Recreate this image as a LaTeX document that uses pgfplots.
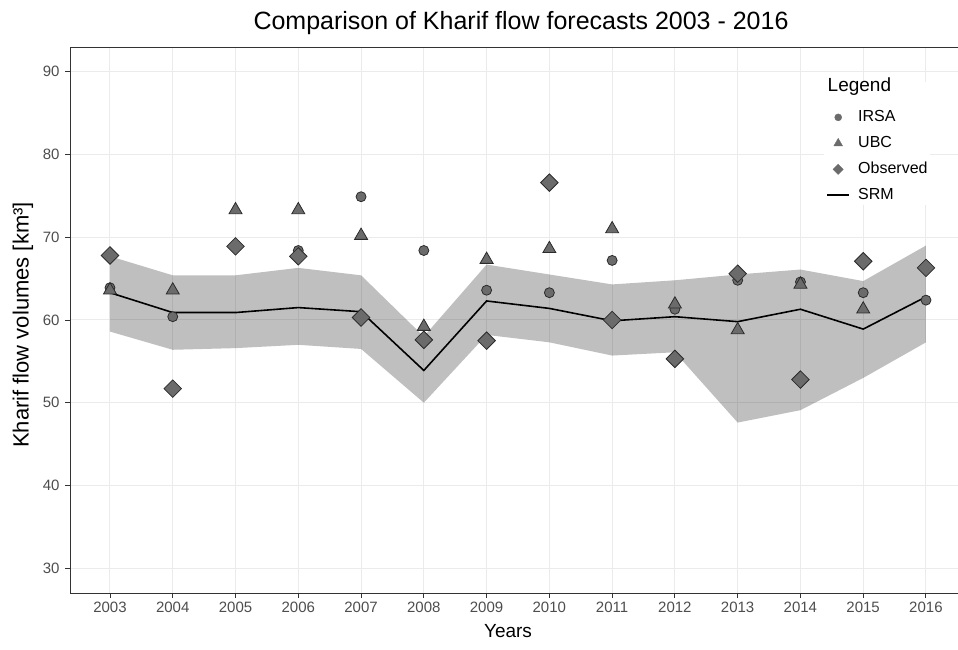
\documentclass[border=0pt]{standalone}
\usepackage{fontspec}
\setmainfont{Liberation Sans}
\usepackage{pgfplots}
\pgfplotsset{compat=1.18}
\definecolor{gridc}{HTML}{EBEBEB}
\definecolor{bordc}{HTML}{333333}
\definecolor{tickc}{HTML}{4D4D4D}
\definecolor{markfill}{HTML}{6B6B6B}
\definecolor{markedge}{HTML}{2B2B2B}
\pgfplotsset{
  legmark/.style={legend image code/.code={\draw[##1] plot coordinates {(11pt,0pt)};}},
  legline/.style={legend image code/.code={\draw[##1] (0pt,0pt) -- (22pt,0pt);}},
}
\begin{document}
\begin{tikzpicture}
\path[use as bounding box] (0,0) rectangle (958pt,650pt);
\begin{axis}[
  at={(70pt,57pt)}, anchor=south west,
  scale only axis, width=888pt, height=546pt,
  xmin=2002.363, xmax=2016.51, ymin=27, ymax=93,
  xtick={2003,2004,...,2016}, ytick={30,40,...,90},
  xticklabel style={/pgf/number format/.cd,1000 sep={}},
  yticklabel style={xshift=-2pt},
  /pgf/number format/assume math mode=true,
  ticklabel style={font=\fontsize{15}{15}\selectfont, color=tickc},
  grid=major, major grid style={color=gridc, line width=1pt},
  axis line style={color=bordc, line width=0.9pt},
  tick style={color=bordc, line width=0.9pt},
  tick align=outside, major tick length=5pt, tick pos=left,
  legend cell align=left,
  legend style={at={(0.8491,0.9365)}, anchor=north west, draw=none, fill=white,
    inner sep=2pt, row sep=11pt, column sep=8pt,
    font=\fontsize{16}{16}\selectfont,
    nodes={inner sep=0pt, text height=12pt, text depth=3pt}},
]
% uncertainty band (upper edge, then lower edge reversed)
\addplot[fill=black, fill opacity=0.25, draw=none, forget plot] coordinates {
(2003,67.7) (2004,65.4) (2005,65.4) (2006,66.3) (2007,65.4) (2008,58.0) (2009,66.7)
(2010,65.5) (2011,64.3) (2012,64.8) (2013,65.5) (2014,66.1) (2015,64.7) (2016,69.0)
(2016,57.3) (2015,53.0) (2014,49.1) (2013,47.6) (2012,56.1) (2011,55.7) (2010,57.3)
(2009,58.2) (2008,50.0) (2007,56.5) (2006,57.0) (2005,56.6) (2004,56.4) (2003,58.6)} -- cycle;
% SRM
\addplot[black, line width=1.6pt, forget plot] coordinates {
(2003,63.3) (2004,60.9) (2005,60.9) (2006,61.5) (2007,61.0) (2008,53.9) (2009,62.3)
(2010,61.4) (2011,59.9) (2012,60.4) (2013,59.8) (2014,61.3) (2015,58.9) (2016,62.8)};
% IRSA
\addplot[only marks, mark=*, mark size=5pt, mark options={fill=markfill, draw=markedge, line width=0.8pt}, forget plot] coordinates {
(2003,63.9) (2004,60.4) (2006,68.4) (2007,74.9) (2008,68.4) (2009,63.6)
(2010,63.3) (2011,67.2) (2012,61.3) (2013,64.8) (2014,64.6) (2015,63.3) (2016,62.4)};
% UBC
\addplot[only marks, mark=triangle*, mark size=7.5pt, mark options={fill=markfill, draw=markedge, line width=0.8pt}, forget plot] coordinates {
(2003,63.6) (2004,63.6) (2005,73.3) (2006,73.3) (2007,70.2) (2008,59.2) (2009,67.3)
(2010,68.6) (2011,71.0) (2012,61.9) (2013,58.8) (2014,64.3) (2015,61.3)};
% Observed
\addplot[only marks, mark=square*, mark size=6.2pt, mark options={rotate=45, fill=markfill, draw=markedge, line width=0.8pt}, forget plot] coordinates {
(2003,67.8) (2004,51.7) (2005,68.9) (2006,67.7) (2007,60.3) (2008,57.6) (2009,57.5)
(2010,76.6) (2011,60.0) (2012,55.3) (2013,65.6) (2014,52.8) (2015,67.1) (2016,66.3)};
% legend
\addlegendimage{empty legend}
\addlegendentry{\makebox[0pt][l]{\hspace*{-31pt}\raisebox{4pt}{\fontsize{19}{19}\selectfont Legend}}}
\addlegendimage{legmark, only marks, mark=*, mark size=3.5pt, mark options={fill=markfill, draw=markfill}}
\addlegendentry{IRSA}
\addlegendimage{legmark, only marks, mark=triangle*, mark size=5pt, mark options={fill=markfill, draw=markfill}}
\addlegendentry{UBC}
\addlegendimage{legmark, only marks, mark=square*, mark size=3.6pt, mark options={rotate=45, fill=markfill, draw=markfill}}
\addlegendentry{Observed}
\addlegendimage{legline, black, line width=2pt}
\addlegendentry{SRM}
\end{axis}
\node[anchor=base, font=\fontsize{25}{25}\selectfont] at (521pt,620pt) {Comparison of Kharif flow forecasts 2003 - 2016};
\node[anchor=base, font=\fontsize{19}{19}\selectfont] at (508pt,12pt) {Years};
\node[anchor=base, rotate=90, font=\fontsize{22}{22}\selectfont] at (28.5pt,325pt) {Kharif flow volumes [km³]};
\end{tikzpicture}
\end{document}
